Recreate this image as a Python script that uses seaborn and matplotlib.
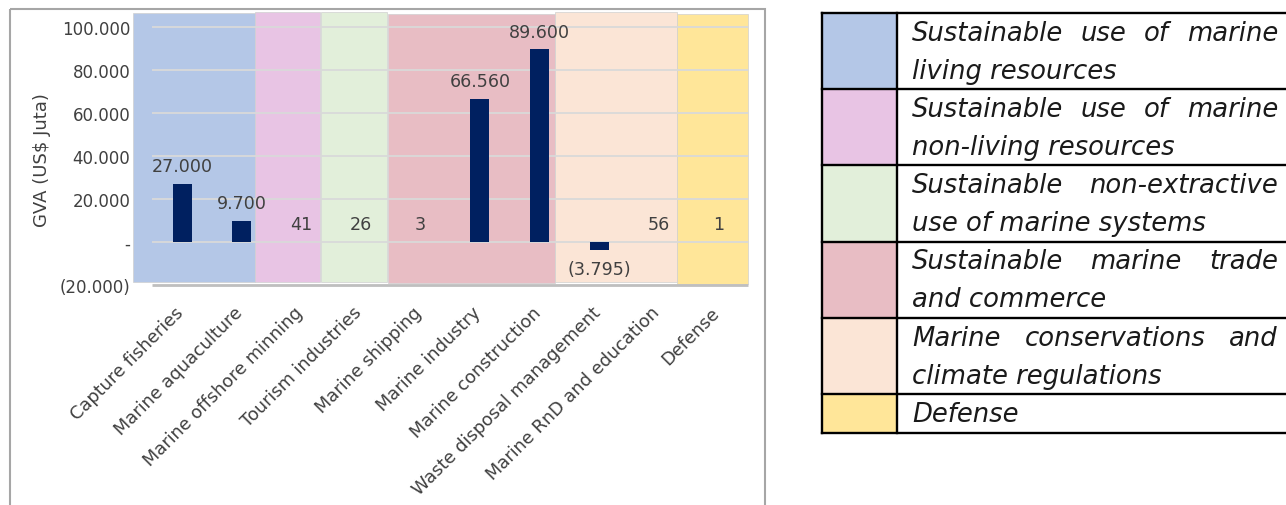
import matplotlib
matplotlib.use("Agg")
import matplotlib.pyplot as plt
from matplotlib.patches import Rectangle
from matplotlib.ticker import FuncFormatter
from matplotlib.transforms import ScaledTranslation
import seaborn as sns
import pandas as pd

# ---------------- data ----------------
categories = ["Capture fisheries", "Marine aquaculture", "Marine offshore minning",
              "Tourism industries", "Marine shipping", "Marine industry",
              "Marine construction", "Waste disposal management",
              "Marine RnD and education", "Defense"]
gva_values = [27000, 9700, 41, 26, 3, 66560, 89600, -3795, 56, 1]
y_ticks = [-20000, 0, 20000, 40000, 60000, 80000, 100000]
y_label = r"GVA (US\$ Juta)"

group_lines = [
    ["Sustainable use of marine", "living resources"],
    ["Sustainable use of marine", "non-living resources"],
    ["Sustainable non-extractive", "use of marine systems"],
    ["Sustainable marine trade", "and commerce"],
    ["Marine conservations and", "climate regulations"],
    ["Defense"],
]
group_colors = ["#B4C7E7", "#E8C4E4", "#E2EFDA", "#E8BDC4", "#FBE5D6", "#FFE699"]

# ---------------- layout (background panels: group idx, x0, x1, y0, y1) ----------------
band_layout = [
    (0, -0.824, 1.228, -18790, 106620),
    (1, 1.228, 2.319, -18650, 107230),
    (2, 2.336, 3.438, -18650, 107230),
    (3, 3.455, 6.262, -19390, 106150),
    (4, 6.262, 8.304, -18930, 107230),
    (5, 8.304, 9.495, -19580, 106150),
]

W, H, DPI = 1286, 506, 100
TXT = "#404040"

sns.set_style("white")
plt.rcParams["font.family"] = ["DejaVu Sans"]

fig = plt.figure(figsize=(W / DPI, H / DPI), dpi=DPI)
ax = fig.add_axes([133 / W, (H - 285.7) / H, 615 / W, 273.7 / H])

# background group panels
for g, x0, x1, y0, y1 in band_layout:
    ax.add_patch(Rectangle((x0, y0), x1 - x0, y1 - y0, facecolor=group_colors[g],
                           edgecolor="#D0D0D0", lw=0.5, zorder=0, clip_on=False))

# gridlines
for v in y_ticks[1:]:
    ax.hlines(v, -0.5, 9.5, color="#D9D9D9", lw=1.3, zorder=1)
ax.hlines(y_ticks[0], -0.5, 9.5, color="#BFBFBF", lw=2, zorder=1, clip_on=False)

df = pd.DataFrame({"cat": categories, "val": gva_values})
sns.barplot(data=df, x="cat", y="val", color="#002060", saturation=1,
            width=0.32, errorbar=None, ax=ax, zorder=3, linewidth=0,
            edgecolor="none")

ax.set_xlim(-0.824, 9.5)
ax.set_ylim(-20000, 107500)


def fmt(v, pos=None):
    if abs(v) < 0.5:
        return "-"
    s = f"{abs(v):,.0f}".replace(",", ".")
    return f"({s})" if v < 0 else s


ax.set_yticks(y_ticks)
ax.yaxis.set_major_formatter(FuncFormatter(fmt))
ax.tick_params(axis="y", length=0, pad=2, labelsize=12, labelcolor=TXT)
ax.tick_params(axis="x", length=0, pad=13, labelsize=12.8, labelcolor=TXT)
shift = ScaledTranslation(-8 / DPI, 0, fig.dpi_scale_trans)
for lab in ax.get_xticklabels():
    lab.set_rotation(45)
    lab.set_ha("right")
    lab.set_rotation_mode("anchor")
    lab.set_transform(lab.get_transform() + shift)
ax.set_xlabel("")
ax.set_ylabel(y_label, fontsize=13, color=TXT, va="center")
ax.yaxis.set_label_coords(-0.148, 0.46)
for s in ax.spines.values():
    s.set_visible(False)
ax.grid(False)

for i, v in enumerate(gva_values):
    ax.annotate(fmt(v), xy=(i, v), xytext=(0, 12.8 if v >= 0 else -13.8),
                textcoords="offset points", ha="center", va="center",
                fontsize=12.6, color=TXT, zorder=4)

# ---------------- overlay: frame + legend table ----------------
ov = fig.add_axes([0, 0, 1, 1])
ov.set_xlim(0, W)
ov.set_ylim(H, 0)
ov.axis("off")
ov.patch.set_alpha(0)

ov.add_patch(Rectangle((10, 10), 755, 560, fill=False, edgecolor="#A6A6A6",
                       lw=1.5, clip_on=False))

tx0, tx1, sw0, sw1, tab_r = 912, 1278, 822, 897, 1300
line_h = 38.1
top = 14.0
renderer = fig.canvas.get_renderer()
row_bounds = [top]
for g, lines in enumerate(group_lines):
    rh = line_h * len(lines) + (1.0 if len(lines) == 1 else 0)
    ov.add_patch(Rectangle((sw0, top), sw1 - sw0, rh, facecolor=group_colors[g],
                           edgecolor="none", zorder=1))
    for k, line in enumerate(lines):
        base = top + 26.7 + line_h * k
        words = line.split(" ")
        if k < len(lines) - 1 and len(words) > 1:
            texts = [ov.text(0, base, w, fontsize=18.6, style="italic", color="#1A1A1A",
                             va="baseline", ha="left", zorder=3) for w in words]
            widths = [t.get_window_extent(renderer).width for t in texts]
            gap = (tx1 - tx0 - sum(widths)) / (len(words) - 1)
            x = tx0
            for t, wd in zip(texts, widths):
                t.set_x(x)
                x += wd + gap
        else:
            ov.text(tx0, base, line, fontsize=18.6, style="italic", color="#1A1A1A",
                    va="baseline", ha="left", zorder=3)
    top += rh
    row_bounds.append(top)

for yb in row_bounds:
    ov.plot([sw0, tab_r], [yb, yb], color="black", lw=1.7, zorder=4,
            solid_capstyle="projecting", clip_on=False)
for xb in (sw0, sw1):
    ov.plot([xb, xb], [row_bounds[0], row_bounds[-1]], color="black", lw=1.7,
            zorder=4, solid_capstyle="projecting")

fig.savefig("out.png", dpi=DPI)
